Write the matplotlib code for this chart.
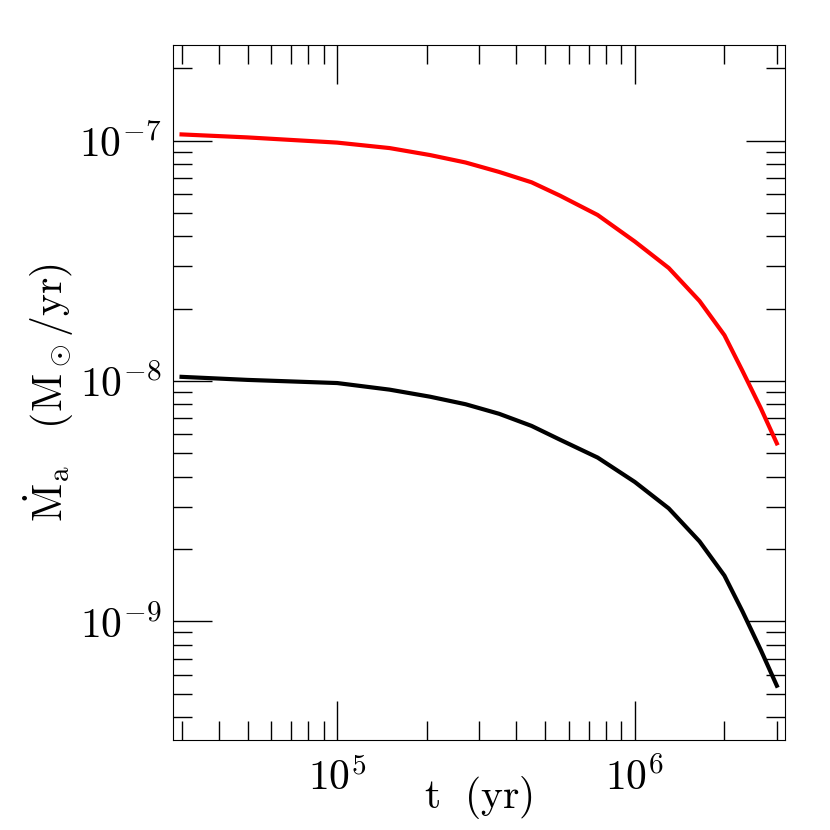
import numpy as np
import matplotlib
matplotlib.use("Agg")
import matplotlib.pyplot as plt
from matplotlib.ticker import LogLocator, NullFormatter, FuncFormatter

plt.rcParams['mathtext.fontset'] = 'cm'
plt.rcParams['font.family'] = 'serif'
plt.rcParams['font.serif'] = ['DejaVu Serif']

# values
t = [3e4, 5e4, 1e5, 1.5e5, 2.05e5, 2.7e5, 3.5e5, 4.5e5, 5.6e5, 7.5e5, 1e6, 1.3e6, 1.65e6, 2e6, 2.3e6, 2.65e6, 3e6]
mdot_red = [1.06e-7, 1.03e-7, 9.8e-8, 9.3e-8, 8.7e-8, 8.1e-8, 7.4e-8, 6.7e-8, 5.9e-8, 4.9e-8,
            3.8e-8, 2.95e-8, 2.15e-8, 1.55e-8, 1.1e-8, 7.7e-9, 5.5e-9]
mdot_black = [1.04e-8, 1.01e-8, 9.8e-9, 9.2e-9, 8.6e-9, 8.0e-9, 7.3e-9, 6.5e-9, 5.7e-9, 4.8e-9,
              3.8e-9, 2.95e-9, 2.15e-9, 1.55e-9, 1.1e-9, 7.6e-10, 5.4e-10]

fig = plt.figure(figsize=(8.3, 8.3), dpi=100)
ax = fig.add_axes([0.208, 0.108, 0.738, 0.838])

ax.plot(t, mdot_red, color='red', lw=3)
ax.plot(t, mdot_black, color='black', lw=3)

ax.set_xscale('log')
ax.set_yscale('log')
ax.set_xlim(2.8e4, 3.2e6)
ax.set_ylim(3.2e-10, 2.5e-7)
ax.yaxis.set_major_locator(LogLocator(base=10, numticks=10))
ax.yaxis.set_minor_locator(LogLocator(base=10, subs=np.arange(2, 10), numticks=10))
fmt = FuncFormatter(lambda v, p: r'$10^{%d}$' % round(np.log10(v)))
ax.xaxis.set_major_formatter(fmt)
ax.yaxis.set_major_formatter(fmt)
ax.yaxis.set_minor_formatter(NullFormatter())
ax.xaxis.set_minor_formatter(NullFormatter())
ax.tick_params(which='both', direction='in', top=True, right=True, labelsize=30)
ax.tick_params(which='major', length=28, width=1)
ax.tick_params(which='minor', length=14, width=1)
ax.tick_params(axis='x', pad=12)
ax.tick_params(axis='y', pad=8)

ax.set_xlabel(r'$\mathrm{t\ \ (yr)}$', fontsize=30, labelpad=-18)
ax.set_ylabel(r'$\dot{\mathrm{M}}_\mathrm{a}\ \ \ (\mathrm{M}_\odot/\mathrm{yr})$', fontsize=30, labelpad=2)

fig.savefig('out.png', dpi=100)
